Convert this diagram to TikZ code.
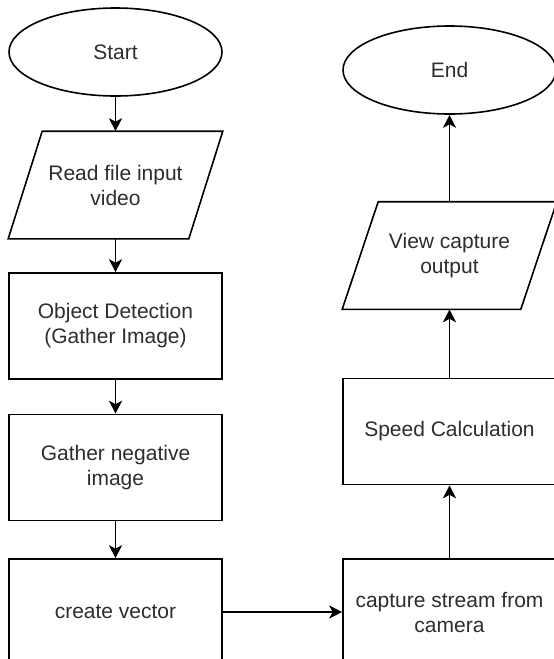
\documentclass[tikz,border=0pt]{standalone}
\usepackage{fontspec}
\setmainfont{Liberation Sans}
\usetikzlibrary{arrows.meta,shapes.geometric}
\definecolor{labelgray}{RGB}{45,45,45}
\begin{document}
\begin{tikzpicture}[x=1pt,y=-1pt,
  shapebase/.style={line width=1.6pt, align=center, text=labelgray,
    font=\fontsize{21}{25}\selectfont, inner sep=0pt},
  stepbox/.style={shapebase, draw, rectangle, minimum width=213pt, minimum height=106pt},
  terminal/.style={shapebase, draw, ellipse, minimum width=213pt, minimum height=88pt},
  iobox/.style={shapebase, rectangle, minimum width=213pt, minimum height=106pt},
  outline/.style={line width=1.6pt, line join=miter},
  conn/.style={line width=1.6pt, -{Stealth[length=13pt,width=13pt,inset=3.5pt]}}]
\useasboundingbox (0,0) rectangle (554,659);
\clip (0,0) rectangle (554,659);

% left column
\node[terminal] (start) at (115.5,52) {Start};
\node[iobox] (read) at (115.5,185) {Read file input\\video};
\node[stepbox] (detect) at (115.5,326) {Object Detection\\(Gather Image)};
\node[stepbox] (negative) at (115.5,467.5) {Gather negative\\image};
\node[stepbox] (vector) at (115.5,612) {create vector};

% right column
\node[stepbox] (capture) at (449.5,612) {capture stream from\\camera};
\node[stepbox] (speed) at (449.5,431.5) {Speed Calculation};
\node[iobox] (view) at (449.5,255.5) {View capture\\output};
\node[terminal] (end) at (449.5,70) {End};

% input/output parallelograms
\draw[outline] ([xshift=34pt]read.north west) -- (read.north east)
  -- ([xshift=-34pt]read.south east) -- (read.south west) -- cycle;
\draw[outline] ([xshift=36pt]view.north west) -- (view.north east)
  -- ([xshift=-36pt]view.south east) -- (view.south west) -- cycle;

% flow
\draw[conn] (start) -- (read);
\draw[conn] (read) -- (detect);
\draw[conn] (detect) -- (negative);
\draw[conn] (negative) -- (vector);
\draw[conn] (vector) -- (capture);
\draw[conn] (capture) -- (speed);
\draw[conn] (speed) -- (view);
\draw[conn] (view) -- (end);
\end{tikzpicture}
\end{document}
